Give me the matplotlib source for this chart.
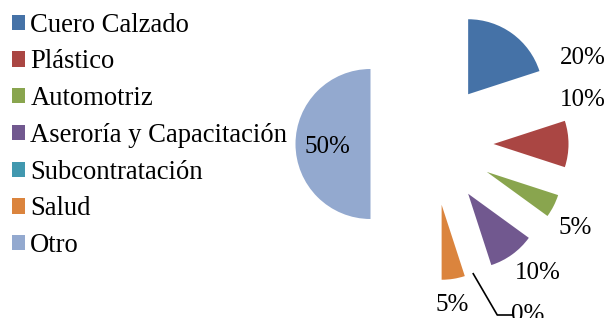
import matplotlib
matplotlib.use("Agg")
import matplotlib.pyplot as plt
import numpy as np

plt.rcParams['font.family'] = ['Liberation Serif', 'DejaVu Serif']

sectores = ["Cuero Calzado", "Plástico", "Automotriz", "Aseroría y Capacitación",
            "Subcontratación", "Salud", "Otro"]
porcentajes = [20, 10, 5, 10, 0, 5, 50]
etiquetas = ["20%", "10%", "5%", "10%", "0%", "5%", "50%"]
colores = ["#4572A7", "#AA4643", "#89A54E", "#71588F", "#4198AF", "#DB843D", "#93A9CF"]

# label positions (data units, pie radius = 1)
label_xy = [(2.01, 1.15), (2.01, 0.59), (1.91, -1.12), (1.41, -1.72),
            (1.28, -2.28), (0.27, -2.15), (-1.39, -0.04)]

fig = plt.figure(figsize=(6.13, 3.18), dpi=100)
ax = fig.add_axes([0, 0, 1, 1])

wedges, _ = ax.pie(porcentajes, colors=colores, startangle=90, counterclock=False,
                   explode=[0.82] * len(porcentajes), radius=1,
                   wedgeprops=dict(linewidth=0))

for (x, y), t in zip(label_xy, etiquetas):
    ax.text(x, y, t, fontsize=18, ha='center', va='center', color='black')

# leader line for the 0% slice
ax.plot([0.55, 0.87, 1.07], [-1.73, -2.28, -2.28], color='black', lw=1.2)

ax.set_xlim(-432 / 75, (613 - 432) / 75)
ax.set_ylim(-(318 - 144) / 75, 144 / 75)
ax.set_aspect('auto')
ax.axis('off')

fig.legend(wedges, sectores, loc='upper left', bbox_to_anchor=(0.019, 0.96),
           frameon=False, fontsize=19.2, handlelength=0.5, handleheight=0.5,
           handletextpad=0.2, labelspacing=0.44, borderpad=0, borderaxespad=0)

fig.savefig("out.png", dpi=100)
